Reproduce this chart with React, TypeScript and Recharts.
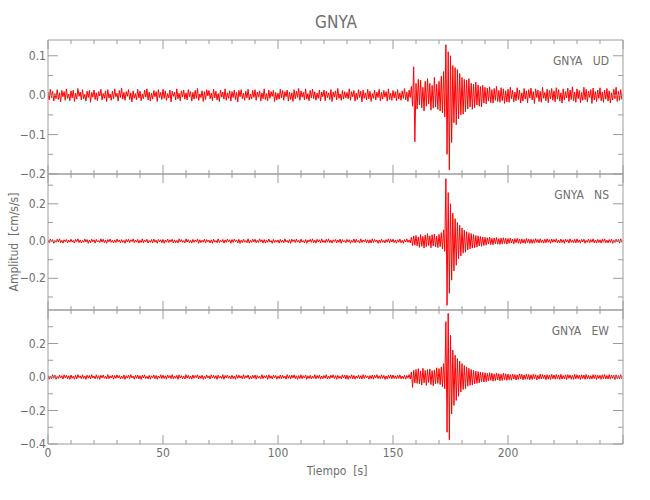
import React from 'react'
import { LineChart, Line, XAxis, YAxis } from 'recharts'

// one sample every 0.5 s, amplitudes in 0.001 cm/s/s
const timeStep = 0.5

const udValues = [
  8, -12, 15, -6, 10, -15, 4, -9, 14, -11, 6, -17, 12, -4, 9, -13, 16, -8, 3, -14,
  11, -7, 13, -16, 5, -10, 17, -3, 8, -12, 14, -9, 2, -15, 10, -6, 12, -18, 7, -5,
  13, -11, 6, -14, 9, -2, 15, -12, 4, -8, 11, -16, 14, -7, 3, -13, 10, -9, 16, -4,
  5, -15, 12, -6, 18, -10, 7, -13, 9, -3, 14, -11, 6, -17, 11, -8, 4, -12, 15, -7,
  10, -14, 3, -9, 13, -5, 16, -12, 8, -15, 5, -10, 12, -4, 9, -16, 14, -6, 7, -11,
  15, -8, 11, -13, 4, -7, 13, -17, 10, -3, 8, -12, 16, -9, 5, -14, 11, -5, 13, -10,
  6, -12, 14, -4, 9, -15, 7, -10, 12, -8, 17, -13, 3, -6, 11, -16, 9, -11, 14, -2,
  12, -9, 5, -14, 15, -7, 10, -12, 4, -16, 13, -5, 8, -10, 16, -13, 6, -8, 11, -15,
  9, -6, 13, -11, 7, -17, 12, -4, 14, -9, 5, -13, 10, -7, 15, -12, 3, -10, 12, -6,
  14, -13, 8, -5, 11, -15, 6, -9, 16, -11, 4, -14, 13, -8, 9, -3, 12, -16, 7, -12,
  5, -10, 15, -7, 12, -13, 9, -4, 13, -15, 8, -11, 6, -16, 14, -9, 10, -6, 17, -13,
  11, -5, 7, -12, 16, -10, 4, -14, 12, -7, 15, -9, 9, -13, 5, -8, 13, -15, 8, -4,
  13, -14, 10, -6, 6, -11, 14, -16, 8, -5, 11, -12, 17, -8, 3, -13, 12, -10, 9, -7,
  7, -9, 16, -13, 9, -4, 12, -15, 5, -11, 14, -6, 10, -17, 13, -8, 6, -12, 15, -9,
  10, -16, 4, -8, 13, -12, 8, -6, 15, -14, 7, -10, 12, -5, 9, -15, 16, -11, 5, -13,
  12, -7, 9, -14, 14, -10, 6, -13, 11, -8, 17, -12, 8, -16, 13, -6, 22, -28, 72, -118,
  30, -35, 40, -25, 38, -32, 20, -40, 35, -28, 42, -22, 30, -38, 25, -33, 45, -30, 28, -36,
  35, -40, 48, -45, 60, -55, 128, -150, 110, -190, 100, -120, 75, -70, 70, -75, 65, -60, 55, -50,
  45, -48, 40, -42, 38, -35, 42, -30, 30, -36, 28, -32, 33, -25, 26, -28, 22, -30, 25, -20,
  20, -22, 18, -15, 21, -19, 14, -20, 17, -13, 22, -16, 12, -18, 19, -14, 16, -21, 11, -17,
  15, -18, 20, -9, 12, -17, 8, -14, 19, -11, 13, -20, 6, -15, 17, -10, 11, -19, 14, -7,
  18, -12, 9, -21, 16, -6, 13, -16, 10, -18, 20, -8, 7, -14, 15, -19, 12, -9, 17, -13,
  11, -17, 19, -10, 14, -15, 6, -20, 16, -12, 9, -7, 18, -16, 13, -11, 21, -14, 8, -18,
  16, -9, 12, -19, 7, -13, 20, -11, 15, -17, 10, -6, 14, -21, 18, -12, 9, -16, 13, -8,
  19, -14, 8, -18, 13, -10, 17, -15, 11, -20, 6, -12, 15, -9, 20, -16, 10, -13, 14, -11,
]

const nsValues = [
  6, -9, 11, -4, 8, -12, 3, -7, 10, -5, 12, -8, 4, -11, 7, -3, 9, -10, 5, -6,
  10, -6, 4, -11, 9, -3, 12, -8, 6, -10, 3, -7, 11, -5, 8, -12, 5, -9, 10, -4,
  7, -11, 9, -5, 3, -8, 12, -6, 10, -9, 5, -12, 8, -4, 11, -7, 4, -10, 6, -8,
  11, -4, 6, -10, 8, -7, 4, -12, 9, -5, 10, -8, 7, -3, 12, -9, 5, -6, 9, -11,
  4, -8, 12, -9, 6, -5, 10, -11, 3, -7, 8, -10, 11, -6, 5, -12, 9, -4, 7, -9,
  9, -12, 5, -6, 11, -8, 7, -4, 10, -10, 6, -9, 4, -11, 12, -5, 8, -7, 3, -10,
  12, -5, 8, -9, 4, -11, 9, -7, 6, -3, 11, -12, 7, -8, 5, -6, 10, -10, 8, -4,
  5, -10, 7, -12, 10, -6, 3, -9, 12, -8, 4, -5, 9, -11, 6, -7, 11, -4, 7, -12,
  8, -7, 11, -3, 6, -10, 9, -12, 5, -8, 10, -6, 3, -9, 12, -11, 4, -7, 10, -5,
  10, -9, 4, -8, 12, -4, 7, -10, 8, -11, 6, -7, 11, -5, 3, -12, 9, -8, 5, -6,
  6, -11, 9, -7, 5, -9, 12, -5, 4, -10, 8, -12, 10, -3, 7, -8, 11, -6, 4, -10,
  11, -6, 3, -10, 8, -12, 6, -4, 9, -7, 12, -9, 5, -11, 10, -5, 7, -10, 12, -7,
  4, -9, 10, -6, 12, -8, 5, -11, 7, -3, 9, -10, 6, -7, 11, -12, 8, -5, 3, -9,
  9, -5, 7, -12, 4, -7, 11, -9, 10, -6, 3, -11, 12, -8, 6, -4, 9, -10, 7, -11,
  7, -10, 12, -8, 9, -4, 6, -12, 5, -9, 11, -7, 4, -10, 8, -6, 12, -9, 10, -5,
  10, -8, 5, -11, 7, -6, 11, -9, 4, -12, 8, -5, 12, -7, 6, -10, 20, -24, 28, -22,
  30, -26, 22, -34, 35, -28, 25, -38, 32, -30, 40, -24, 28, -36, 34, -27, 38, -32, 26, -35,
  36, -30, 45, -42, 60, -55, 335, -345, 260, -280, 200, -210, 150, -160, 120, -130, 100, -95, 85, -80,
  70, -65, 58, -60, 50, -48, 45, -42, 40, -38, 35, -36, 30, -32, 28, -26, 25, -28, 22, -24,
  20, -22, 18, -16, 21, -19, 15, -20, 17, -14, 19, -17, 13, -18, 16, -15, 18, -13, 14, -16,
  14, -12, 16, -10, 11, -15, 13, -9, 15, -12, 10, -14, 12, -11, 9, -13, 14, -8, 11, -12,
  10, -12, 8, -11, 13, -7, 9, -10, 12, -8, 6, -11, 10, -9, 12, -6, 8, -12, 11, -7,
  9, -6, 12, -10, 5, -9, 11, -8, 7, -12, 10, -5, 8, -11, 12, -7, 6, -9, 10, -10,
  12, -8, 6, -11, 9, -5, 10, -12, 4, -7, 11, -9, 8, -6, 12, -10, 5, -11, 9, -8,
  7, -11, 10, -6, 12, -9, 5, -10, 8, -7, 11, -12, 6, -8, 10, -5, 9, -11, 12, -7,
]

const ewValues = [
  9, -13, 6, -10, 14, -7, 11, -14, 4, -9, 12, -6, 8, -12, 13, -5, 10, -11, 7, -14,
  12, -8, 5, -13, 10, -11, 14, -4, 7, -10, 13, -9, 6, -14, 11, -7, 9, -12, 14, -6,
  6, -11, 13, -9, 8, -14, 10, -5, 12, -8, 4, -12, 14, -10, 7, -6, 11, -13, 9, -8,
  13, -6, 9, -12, 5, -10, 12, -14, 8, -7, 11, -9, 14, -5, 6, -13, 10, -8, 12, -11,
  8, -14, 11, -6, 13, -9, 4, -11, 10, -13, 7, -5, 12, -10, 9, -14, 6, -7, 13, -9,
  11, -9, 7, -13, 12, -5, 9, -10, 14, -12, 6, -8, 10, -14, 13, -6, 8, -11, 5, -12,
  14, -7, 10, -11, 6, -13, 12, -8, 9, -4, 13, -12, 7, -9, 11, -14, 5, -10, 12, -6,
  7, -12, 13, -5, 10, -9, 8, -14, 11, -7, 5, -10, 14, -13, 9, -6, 12, -8, 6, -11,
  10, -10, 6, -14, 13, -8, 11, -6, 7, -12, 14, -9, 8, -5, 12, -13, 4, -11, 10, -7,
  12, -13, 9, -7, 5, -11, 14, -10, 8, -6, 10, -14, 13, -8, 7, -12, 11, -5, 9, -13,
  5, -9, 12, -11, 10, -7, 6, -13, 14, -8, 9, -12, 11, -6, 13, -10, 7, -14, 8, -9,
  13, -11, 8, -6, 12, -14, 7, -9, 10, -12, 5, -8, 14, -11, 9, -7, 12, -13, 6, -10,
  9, -7, 14, -12, 6, -10, 11, -5, 13, -9, 8, -14, 10, -8, 5, -11, 13, -6, 12, -12,
  11, -14, 7, -8, 13, -11, 9, -13, 6, -7, 12, -10, 8, -12, 14, -9, 10, -5, 7, -13,
  8, -10, 12, -13, 10, -6, 14, -9, 7, -11, 13, -8, 9, -14, 6, -12, 11, -7, 13, -10,
  12, -9, 7, -12, 10, -8, 13, -11, 6, -10, 11, -13, 9, -7, 14, -12, 30, -62, 40, -35,
  45, -38, 50, -42, 36, -48, 52, -35, 40, -50, 44, -32, 48, -45, 38, -52, 42, -40, 55, -38,
  50, -45, 60, -58, 80, -70, 330, -330, 380, -375, 250, -220, 160, -170, 130, -140, 110, -115, 95, -90,
  80, -75, 68, -70, 60, -55, 52, -50, 45, -48, 40, -42, 36, -38, 32, -35, 30, -28, 27, -30,
  25, -28, 22, -24, 26, -20, 23, -25, 19, -22, 24, -18, 20, -23, 17, -21, 22, -16, 19, -20,
  18, -16, 14, -19, 17, -12, 15, -18, 13, -15, 19, -11, 16, -17, 12, -14, 18, -13, 15, -16,
  13, -15, 16, -11, 14, -17, 10, -13, 17, -12, 15, -9, 12, -16, 14, -13, 11, -15, 16, -10,
  12, -13, 15, -10, 11, -14, 16, -12, 9, -11, 13, -15, 14, -8, 12, -13, 10, -14, 15, -11,
  14, -10, 11, -15, 13, -9, 12, -14, 15, -11, 10, -13, 8, -12, 14, -10, 13, -15, 11, -9,
  10, -14, 13, -9, 15, -12, 9, -11, 14, -13, 12, -8, 11, -15, 13, -10, 9, -12, 14, -11,
]

const xTicks = [0, 10, 20, 30, 40, 50, 60, 70, 80, 90, 100, 110, 120, 130, 140, 150, 160, 170, 180, 190, 200, 210, 220, 230, 240, 250]
const xMajor = [0, 50, 100, 150, 200, 250]
const xLabels = [0, 50, 100, 150, 200]

const udTicks = [-0.2, -0.15, -0.1, -0.05, 0, 0.05, 0.1]
const udLabels = [-0.2, -0.1, 0, 0.1]
const nsTicks = [-0.3, -0.2, -0.1, 0, 0.1, 0.2, 0.3]
const nsLabels = [-0.2, 0, 0.2]
const ewTicks = [-0.4, -0.3, -0.2, -0.1, 0, 0.1, 0.2, 0.3]
const ewLabels = [-0.4, -0.2, 0, 0.2]

const rows = udValues.map((v, i) => ({
  t: i * timeStep,
  ud: v / 1000,
  ns: nsValues[i] / 1000,
  ew: ewValues[i] / 1000,
}))

const FRAME = '#9c9c9c'
const INK = '#6e6e6e'
const FONT = "'Liberation Sans Narrow', 'DejaVu Sans Condensed', sans-serif"
const PAD = 9

const has = (list: number[], v: number) => list.some((m) => Math.abs(m - v) < 1e-9)
const fmtY = (v: number) => (v < -1e-9 ? '\u2212' : '') + Math.abs(v).toFixed(1)

const LeftTick = (props: any) => {
  const { x, y, payload, labels } = props
  const major = has(labels, payload.value)
  return (
    <g>
      <line x1={x} x2={x + (major ? 10 : 5)} y1={y} y2={y} stroke={FRAME} />
      {major && (
        <text x={x - 2} y={y} dy={4} textAnchor="end" fill={INK} fontSize={12} fontFamily={FONT}>
          {fmtY(payload.value)}
        </text>
      )}
    </g>
  )
}

const RightTick = (props: any) => {
  const { x, y, payload, labels } = props
  const major = has(labels, payload.value)
  return <line x1={x} x2={x - (major ? 10 : 5)} y1={y} y2={y} stroke={FRAME} />
}

const BottomTick = (props: any) => {
  const { x, y, payload, showLabels } = props
  const major = has(xMajor, payload.value)
  return (
    <g>
      <line x1={x} x2={x} y1={y} y2={y - (major ? 9 : 4)} stroke={FRAME} />
      {showLabels && has(xLabels, payload.value) && (
        <text x={x} y={y} dy={13} textAnchor="middle" fill={INK} fontSize={12} fontFamily={FONT}>
          {payload.value}
        </text>
      )}
    </g>
  )
}

const TopTick = (props: any) => {
  const { x, y, payload } = props
  const major = has(xMajor, payload.value)
  return <line x1={x} x2={x} y1={y} y2={y + (major ? 9 : 4)} stroke={FRAME} />
}

interface PanelProps {
  dataKey: string
  domain: [number, number]
  ticks: number[]
  labels: number[]
  top: number
  height: number
  tag: string
  last?: boolean
}

const Panel = ({ dataKey, domain, ticks, labels, top, height, tag, last }: PanelProps) => {
  const bottom = last ? 22 : PAD
  return (
    <>
      <div style={{ position: 'absolute', left: 0, top: top - PAD - 1 }}>
        <LineChart width={650} height={PAD + 1 + height + 1 + bottom} data={rows} margin={{ top: PAD, right: 0, bottom, left: 0 }}>
          <XAxis
            xAxisId="b" dataKey="t" type="number" domain={[0, 250]} ticks={xTicks} interval={0}
            height={1} tickSize={0} tickMargin={0} tickLine={false} axisLine={{ stroke: FRAME }}
            allowDataOverflow tick={(p: any) => <BottomTick {...p} showLabels={last} />}
          />
          <XAxis
            xAxisId="t" orientation="top" dataKey="t" type="number" domain={[0, 250]} ticks={xTicks} interval={0}
            height={1} tickSize={0} tickMargin={0} tickLine={false} axisLine={{ stroke: FRAME }}
            allowDataOverflow tick={(p: any) => <TopTick {...p} />}
          />
          <YAxis
            yAxisId="l" type="number" domain={domain} ticks={ticks} interval={0} width={48}
            tickSize={0} tickMargin={0} tickLine={false} axisLine={{ stroke: FRAME }}
            allowDataOverflow tick={(p: any) => <LeftTick {...p} labels={labels} />}
          />
          <YAxis
            yAxisId="r" orientation="right" type="number" domain={domain} ticks={ticks} interval={0} width={27}
            tickSize={0} tickMargin={0} tickLine={false} axisLine={{ stroke: FRAME }}
            allowDataOverflow tick={(p: any) => <RightTick {...p} labels={labels} />}
          />
          <Line
            xAxisId="b" yAxisId="l" type="linear" dataKey={dataKey} stroke="#ff0000" strokeWidth={1}
            dot={false} activeDot={false} isAnimationActive={false}
          />
        </LineChart>
      </div>
      <div
        style={{
          position: 'absolute', right: 41, top: top + 14, fontFamily: FONT, fontSize: 12,
          color: INK, whiteSpace: 'pre', lineHeight: '14px',
        }}
      >
        {tag}
      </div>
    </>
  )
}

export default function App() {
  return (
    <div style={{ position: 'absolute', left: 0, top: 0, width: 650, height: 500, background: '#fff' }}>
      <div
        style={{
          position: 'absolute', left: 236, width: 200, top: 12, textAlign: 'center',
          fontFamily: FONT, fontSize: 17, color: INK, lineHeight: '20px',
        }}
      >
        GNYA
      </div>
      <Panel dataKey="ud" domain={[-0.2, 0.14]} ticks={udTicks} labels={udLabels} top={40} height={134} tag={'GNYA   UD'} />
      <Panel dataKey="ns" domain={[-0.37, 0.36]} ticks={nsTicks} labels={nsLabels} top={174} height={136} tag={'GNYA   NS'} />
      <Panel dataKey="ew" domain={[-0.4, 0.4]} ticks={ewTicks} labels={ewLabels} top={310} height={134} tag={'GNYA   EW'} last />
      <div style={{ position: 'absolute', left: 14, top: 242, width: 0, height: 0 }}>
        <div
          style={{
            position: 'absolute', left: -70, top: -8, width: 140, textAlign: 'center', transform: 'rotate(-90deg)',
            fontFamily: FONT, fontSize: 12, color: INK, lineHeight: '16px', whiteSpace: 'pre',
          }}
        >
          {'Amplitud  [cm/s/s]'}
        </div>
      </div>
      <div
        style={{
          position: 'absolute', left: 237, width: 200, top: 463, textAlign: 'center',
          fontFamily: FONT, fontSize: 12, color: INK, lineHeight: '16px', whiteSpace: 'pre',
        }}
      >
        {'Tiempo  [s]'}
      </div>
    </div>
  )
}
